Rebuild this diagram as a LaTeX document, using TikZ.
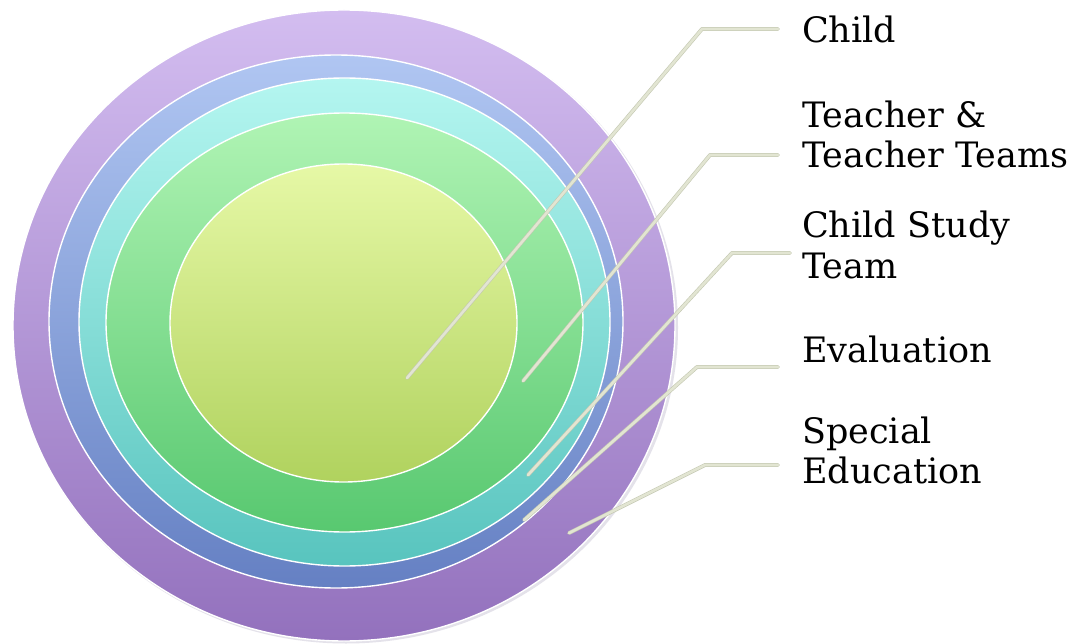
\documentclass[tikz,border=0pt]{standalone}
\usepackage{fontspec}
\setmainfont{DejaVu Serif}
\begin{document}
\begin{tikzpicture}[x=1pt,y=-1pt,
  ring/.style={draw=white,line width=1.4pt},
  leader/.style={draw=leaderedge,double=leaderfill,double distance=2.6pt,line width=0.6pt,line cap=round,line join=round},
  lbl/.style={anchor=base west,align=left,inner sep=0pt,font=\fontsize{35}{40}\selectfont,text=black}]
\definecolor{pTop}{HTML}{D3BDF0}\definecolor{pBot}{HTML}{9371BD}
\definecolor{bTop}{HTML}{B0C6F2}\definecolor{bBot}{HTML}{6580C3}
\definecolor{cTop}{HTML}{B4F6F0}\definecolor{cBot}{HTML}{58C4BE}
\definecolor{gTop}{HTML}{B0F4B4}\definecolor{gBot}{HTML}{58C870}
\definecolor{yTop}{HTML}{E6F8A6}\definecolor{yBot}{HTML}{B0D25E}
\definecolor{leaderedge}{HTML}{C4C8B2}
\definecolor{leaderfill}{HTML}{E2E5D2}
\definecolor{shadowc}{HTML}{E4E2EA}
\useasboundingbox[fill=white] (0,0) rectangle (1078,644);
% shadow
\fill[shadowc] (346,327.5) ellipse [x radius=332, y radius=316];
% rings
\shade[ring,top color=pTop,bottom color=pBot] (344,325.5) ellipse [x radius=331, y radius=315.5];
\shade[ring,top color=bTop,bottom color=bBot] (336,321.5) ellipse [x radius=287, y radius=266.5];
\shade[ring,top color=cTop,bottom color=cBot] (344.5,322) ellipse [x radius=265.5, y radius=244];
\shade[ring,top color=gTop,bottom color=gBot] (344.5,322.5) ellipse [x radius=238.5, y radius=209.5];
\shade[ring,top color=yTop,bottom color=yBot] (343.5,323) ellipse [x radius=173.5, y radius=159];
% labels (base anchor = baseline of last line)
\node[lbl] (child) at (802,43) {Child};
\node[lbl] (teacher) at (802,168) {Teacher \&\\Teacher Teams};
\node[lbl] (cst) at (802,278) {Child Study\\Team};
\node[lbl] (eval) at (802,362) {Evaluation};
\node[lbl] (sped) at (802,483) {Special\\Education};
% leader coordinates
\coordinate (s1) at (407,378); \coordinate (k1) at (702,29);  \coordinate (e1) at (778,29);
\coordinate (s2) at (523,381); \coordinate (k2) at (710,155); \coordinate (e2) at (778,155);
\coordinate (s3) at (528,475); \coordinate (k3) at (732,253); \coordinate (e3) at (790,253);
\coordinate (s4) at (524,520); \coordinate (k4) at (697,367); \coordinate (e4) at (778,367);
\coordinate (s5) at (569,533); \coordinate (k5) at (705,465); \coordinate (e5) at (778,465);
\draw[leader] (s1) -- (k1) -- (e1);
\draw[leader] (s2) -- (k2) -- (e2);
\draw[leader] (s3) -- (k3) -- (e3);
\draw[leader] (s4) -- (k4) -- (e4);
\draw[leader] (s5) -- (k5) -- (e5);
\end{tikzpicture}
\end{document}
